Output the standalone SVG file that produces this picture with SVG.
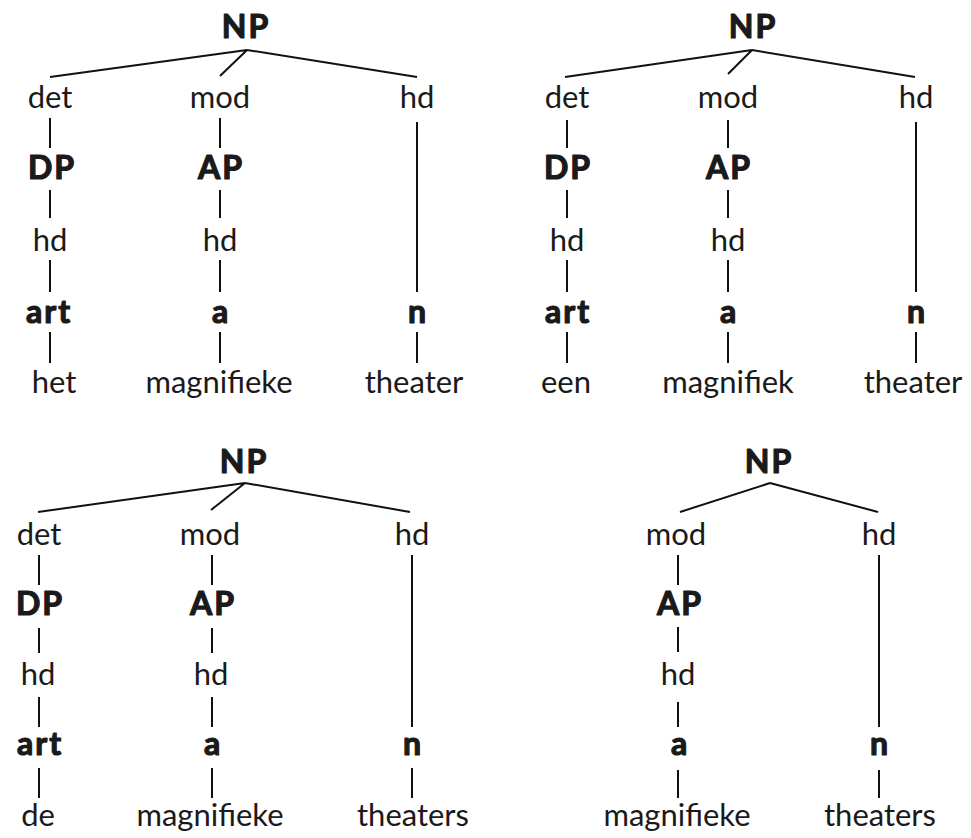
<svg xmlns="http://www.w3.org/2000/svg" width="971" height="838" viewBox="0 0 971 838">
  <style>
    text { font-family: Lato, "Open Sans", "Liberation Sans", sans-serif; fill: #1a1a1a; text-anchor: middle; }
    .lab { font-size: 31px; font-weight: normal; }
    .cat { font-size: 32px; font-weight: bold; stroke: #1a1a1a; stroke-width: 1.2; stroke-linejoin: round; letter-spacing: 2px; }
    .edges path { stroke: #111; stroke-width: 2; fill: none; stroke-linecap: butt; }
  </style>
  <rect width="971" height="838" fill="#fff"/>

  <!-- Tree 1: het magnifieke theater -->
  <g id="tree1">
    <g class="edges">
      <path d="M247 50 L50 77 M247 50 L220 76 M247 50 L417 77"/>
      <path d="M50 118 V148 M50 190 V218 M50 260 V292 M50 332 V363"/>
      <path d="M220 118 V148 M220 190 V218 M220 260 V292 M220 332 V363"/>
      <path d="M417 122 V292 M417 332 V363"/>
    </g>
    <g id="t1-np"><text class="cat" x="246" y="38">NP</text></g>
    <g id="t1-det"><text class="lab" x="50" y="108">det</text></g>
    <g id="t1-mod"><text class="lab" x="220" y="108">mod</text></g>
    <g id="t1-hd"><text class="lab" x="417" y="108">hd</text></g>
    <g id="t1-dp"><text class="cat" x="52" y="179">DP</text></g>
    <g id="t1-ap"><text class="cat" x="221" y="179">AP</text></g>
    <g id="t1-dp-hd"><text class="lab" x="50" y="251">hd</text></g>
    <g id="t1-ap-hd"><text class="lab" x="220" y="251">hd</text></g>
    <g id="t1-art"><text class="cat" x="49" y="323">art</text></g>
    <g id="t1-a"><text class="cat" x="221" y="323">a</text></g>
    <g id="t1-n"><text class="cat" x="418" y="323">n</text></g>
    <g id="t1-w1"><text class="lab" x="54" y="393">het</text></g>
    <g id="t1-w2"><text class="lab" x="219" y="393">magnifieke</text></g>
    <g id="t1-w3"><text class="lab" x="414" y="393">theater</text></g>
  </g>

  <!-- Tree 2: een magnifiek theater -->
  <g id="tree2">
    <g class="edges">
      <path d="M752 50 L565 77 M752 50 L728 74 M752 50 L915 77"/>
      <path d="M567 120 V148 M567 190 V218 M567 260 V292 M567 332 V363"/>
      <path d="M728 120 V148 M728 190 V218 M728 260 V292 M728 332 V363"/>
      <path d="M916 122 V292 M916 332 V363"/>
    </g>
    <g id="t2-np"><text class="cat" x="753" y="38">NP</text></g>
    <g id="t2-det"><text class="lab" x="567" y="108">det</text></g>
    <g id="t2-mod"><text class="lab" x="728" y="108">mod</text></g>
    <g id="t2-hd"><text class="lab" x="916" y="108">hd</text></g>
    <g id="t2-dp"><text class="cat" x="568" y="179">DP</text></g>
    <g id="t2-ap"><text class="cat" x="729" y="179">AP</text></g>
    <g id="t2-dp-hd"><text class="lab" x="567" y="251">hd</text></g>
    <g id="t2-ap-hd"><text class="lab" x="728" y="251">hd</text></g>
    <g id="t2-art"><text class="cat" x="568" y="323">art</text></g>
    <g id="t2-a"><text class="cat" x="729" y="323">a</text></g>
    <g id="t2-n"><text class="cat" x="917" y="323">n</text></g>
    <g id="t2-w1"><text class="lab" x="566" y="393">een</text></g>
    <g id="t2-w2"><text class="lab" x="728" y="393">magnifiek</text></g>
    <g id="t2-w3"><text class="lab" x="913" y="393">theater</text></g>
  </g>

  <!-- Tree 3: de magnifieke theaters -->
  <g id="tree3">
    <g class="edges">
      <path d="M245 483 L38 512 M245 483 L211 510 M245 483 L410 512"/>
      <path d="M39 555 V585 M39 628 V653 M39 697 V727 M39 768 V798"/>
      <path d="M212 555 V585 M212 628 V653 M212 697 V727 M212 768 V798"/>
      <path d="M412 555 V727 M412 768 V798"/>
    </g>
    <g id="t3-np"><text class="cat" x="244" y="473">NP</text></g>
    <g id="t3-det"><text class="lab" x="39" y="545">det</text></g>
    <g id="t3-mod"><text class="lab" x="210" y="545">mod</text></g>
    <g id="t3-hd"><text class="lab" x="412" y="545">hd</text></g>
    <g id="t3-dp"><text class="cat" x="40" y="615">DP</text></g>
    <g id="t3-ap"><text class="cat" x="213" y="615">AP</text></g>
    <g id="t3-dp-hd"><text class="lab" x="38" y="685">hd</text></g>
    <g id="t3-ap-hd"><text class="lab" x="211" y="685">hd</text></g>
    <g id="t3-art"><text class="cat" x="40" y="755">art</text></g>
    <g id="t3-a"><text class="cat" x="213" y="755">a</text></g>
    <g id="t3-n"><text class="cat" x="413" y="755">n</text></g>
    <g id="t3-w1"><text class="lab" x="38" y="826">de</text></g>
    <g id="t3-w2"><text class="lab" x="210" y="826">magnifieke</text></g>
    <g id="t3-w3"><text class="lab" x="413" y="826">theaters</text></g>
  </g>

  <!-- Tree 4: magnifieke theaters -->
  <g id="tree4">
    <g class="edges">
      <path d="M770 483 L680 512 M770 483 L878 512"/>
      <path d="M678 555 V585 M678 627 V652 M678 702 V727 M678 770 V798"/>
      <path d="M879 555 V727 M879 770 V798"/>
    </g>
    <g id="t4-np"><text class="cat" x="769" y="473">NP</text></g>
    <g id="t4-mod"><text class="lab" x="676" y="545">mod</text></g>
    <g id="t4-hd"><text class="lab" x="879" y="545">hd</text></g>
    <g id="t4-ap"><text class="cat" x="680" y="615">AP</text></g>
    <g id="t4-ap-hd"><text class="lab" x="678" y="685">hd</text></g>
    <g id="t4-a"><text class="cat" x="680" y="755">a</text></g>
    <g id="t4-n"><text class="cat" x="880" y="755">n</text></g>
    <g id="t4-w1"><text class="lab" x="677" y="826">magnifieke</text></g>
    <g id="t4-w2"><text class="lab" x="880" y="826">theaters</text></g>
  </g>
</svg>
